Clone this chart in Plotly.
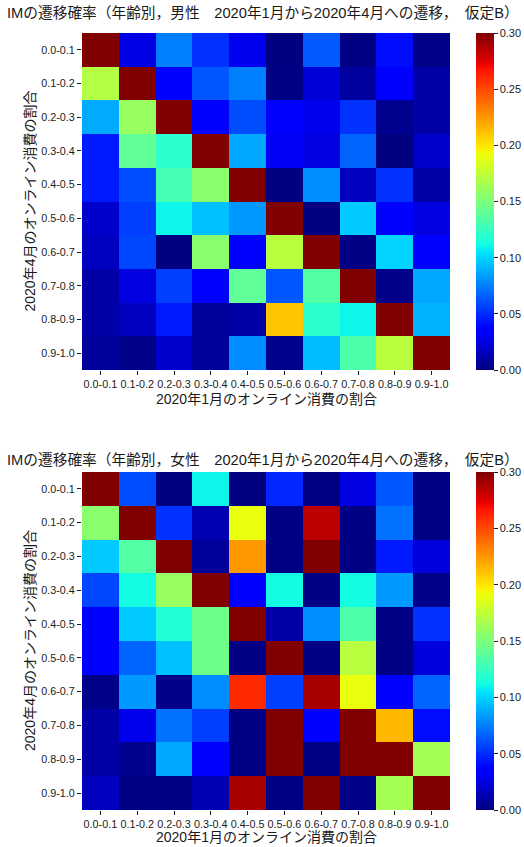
import numpy as np
import plotly.graph_objects as go

categories = ["0.0-0.1", "0.1-0.2", "0.2-0.3", "0.3-0.4", "0.4-0.5",
              "0.5-0.6", "0.6-0.7", "0.7-0.8", "0.8-0.9", "0.9-1.0"]

# rows: April 2020 share (top to bottom), columns: January 2020 share
male = [
    [0.45, 0.026, 0.075, 0.052, 0.029, 0.000, 0.064, 0.001, 0.041, 0.002],
    [0.170, 0.42, 0.036, 0.063, 0.075, 0.001, 0.023, 0.008, 0.036, 0.010],
    [0.088, 0.160, 0.40, 0.035, 0.060, 0.034, 0.028, 0.052, 0.004, 0.010],
    [0.045, 0.140, 0.120, 0.38, 0.087, 0.031, 0.025, 0.067, 0.000, 0.020],
    [0.045, 0.060, 0.130, 0.155, 0.36, 0.000, 0.079, 0.016, 0.052, 0.010],
    [0.020, 0.056, 0.110, 0.094, 0.082, 0.35, 0.000, 0.097, 0.036, 0.025],
    [0.017, 0.058, 0.000, 0.155, 0.036, 0.172, 0.34, 0.001, 0.100, 0.036],
    [0.010, 0.025, 0.056, 0.036, 0.140, 0.063, 0.135, 0.33, 0.002, 0.087],
    [0.010, 0.016, 0.045, 0.007, 0.010, 0.210, 0.120, 0.110, 0.33, 0.090],
    [0.007, 0.002, 0.020, 0.007, 0.079, 0.004, 0.093, 0.133, 0.172, 0.40],
]

female = [
    [0.45, 0.060, 0.000, 0.110, 0.000, 0.049, 0.001, 0.025, 0.063, 0.001],
    [0.155, 0.42, 0.052, 0.013, 0.190, 0.001, 0.285, 0.001, 0.071, 0.001],
    [0.097, 0.135, 0.40, 0.007, 0.225, 0.001, 0.32, 0.001, 0.045, 0.024],
    [0.058, 0.112, 0.160, 0.38, 0.036, 0.112, 0.001, 0.112, 0.083, 0.002],
    [0.035, 0.097, 0.117, 0.145, 0.36, 0.010, 0.079, 0.133, 0.001, 0.052],
    [0.035, 0.067, 0.094, 0.145, 0.001, 0.35, 0.001, 0.172, 0.001, 0.024],
    [0.002, 0.083, 0.002, 0.079, 0.260, 0.056, 0.290, 0.190, 0.036, 0.067],
    [0.010, 0.028, 0.071, 0.056, 0.001, 0.33, 0.036, 0.33, 0.215, 0.041],
    [0.010, 0.004, 0.087, 0.036, 0.001, 0.33, 0.001, 0.33, 0.33, 0.165],
    [0.016, 0.001, 0.001, 0.013, 0.290, 0.001, 0.33, 0.002, 0.165, 0.40],
]

colorbar_ticks = [0.00, 0.05, 0.10, 0.15, 0.20, 0.25, 0.30]

title_male = "IMの遷移確率（年齢別，男性　2020年1月から2020年4月への遷移，　仮定B）"
title_female = "IMの遷移確率（年齢別，女性　2020年1月から2020年4月への遷移，　仮定B）"
xlabel = "2020年1月のオンライン消費の割合"
ylabel = "2020年4月のオンライン消費の割合"

# matplotlib "jet" colormap rebuilt as a plotly colorscale
red_seg = [(0, 0), (0.35, 0), (0.66, 1), (0.89, 1), (1, 0.5)]
green_seg = [(0, 0), (0.125, 0), (0.375, 1), (0.64, 1), (0.91, 0), (1, 0)]
blue_seg = [(0, 0.5), (0.11, 1), (0.34, 1), (0.65, 0), (1, 0)]
pts = sorted(set([p for seg in (red_seg, green_seg, blue_seg) for p, _ in seg]))

def seg_val(seg, t):
    xs, ys = zip(*seg)
    return float(np.interp(t, xs, ys))

jet = [[t, "rgb(%d,%d,%d)" % (round(255 * seg_val(red_seg, t)),
                              round(255 * seg_val(green_seg, t)),
                              round(255 * seg_val(blue_seg, t)))] for t in pts]

W, H = 524, 847
FONT = "Liberation Sans, Noto Sans CJK JP, sans-serif"
TXT = "#1a1a1a"

px_x = lambda v: v / W
px_y = lambda v: 1 - v / H

x_dom = [px_x(82), px_x(450)]
top_dom = [px_y(370), px_y(33)]
bot_dom = [px_y(810), px_y(472)]

fig = go.Figure()
fig.add_trace(go.Heatmap(z=male, x=categories, y=categories, coloraxis="coloraxis",
                         xaxis="x", yaxis="y", xgap=0, ygap=0))
fig.add_trace(go.Heatmap(z=female, x=categories, y=categories, coloraxis="coloraxis2",
                         xaxis="x2", yaxis="y2", xgap=0, ygap=0))

def cbar(top, bottom):
    return dict(
        x=px_x(476), xanchor="left", y=px_y(top), yanchor="top",
        len=(bottom - top) / H, lenmode="fraction",
        thickness=18, thicknessmode="pixels", outlinewidth=0, xpad=0, ypad=0,
        tickvals=colorbar_ticks, tickformat=".2f", ticks="outside", ticklen=4,
        tickcolor=TXT, tickfont=dict(size=11, family=FONT, color=TXT),
    )

axis_common = dict(type="category", ticks="outside", ticklen=4, tickwidth=1,
                   tickcolor=TXT, showgrid=False, zeroline=False, showline=False,
                   tickfont=dict(size=10.8, family=FONT, color=TXT), automargin=False)

fig.update_layout(
    width=W, height=H,
    margin=dict(l=0, r=0, t=0, b=0),
    paper_bgcolor="white", plot_bgcolor="white",
    font=dict(family=FONT, color=TXT),
    showlegend=False,
    coloraxis=dict(colorscale=jet, cmin=0, cmax=0.3, colorbar=cbar(33, 370)),
    coloraxis2=dict(colorscale=jet, cmin=0, cmax=0.3, colorbar=cbar(472, 810)),
    xaxis=dict(domain=x_dom, anchor="y", tickangle=0, **axis_common),
    yaxis=dict(domain=top_dom, anchor="x", autorange="reversed", **axis_common),
    xaxis2=dict(domain=x_dom, anchor="y2", tickangle=0, **axis_common),
    yaxis2=dict(domain=bot_dom, anchor="x2", autorange="reversed", **axis_common),
)

ann = []
for title, ty, xly, top, bottom in [(title_male, 13, 399, 33, 370),
                                    (title_female, 460, 837, 472, 810)]:
    ann.append(dict(text=title, x=px_x(263), y=px_y(ty), xref="paper", yref="paper",
                    xanchor="center", yanchor="middle", showarrow=False,
                    font=dict(size=14.7, family=FONT, color=TXT)))
    ann.append(dict(text=xlabel, x=(x_dom[0] + x_dom[1]) / 2, y=px_y(xly),
                    xref="paper", yref="paper", xanchor="center", yanchor="middle",
                    showarrow=False, font=dict(size=14, family=FONT, color=TXT)))
    ann.append(dict(text=ylabel, x=px_x(30), y=px_y((top + bottom) / 2),
                    xref="paper", yref="paper", xanchor="center", yanchor="middle",
                    textangle=-90, showarrow=False,
                    font=dict(size=14, family=FONT, color=TXT)))
fig.update_layout(annotations=ann)

fig.write_html("out.html", config={"displayModeBar": False},
               post_script="document.body.style.margin='0';")
